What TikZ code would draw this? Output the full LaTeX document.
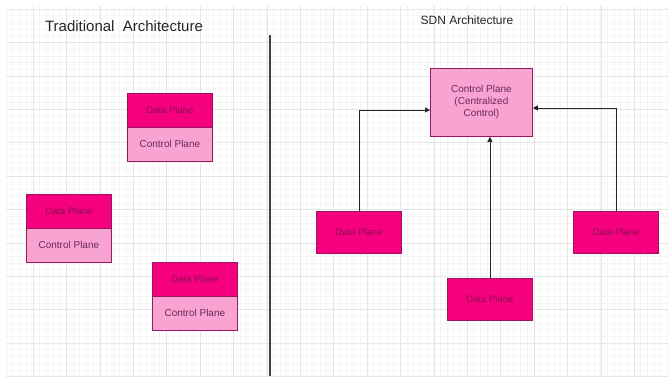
\documentclass[tikz,border=0pt]{standalone}
\usepackage{fontspec}
\setmainfont{Liberation Sans}
\usetikzlibrary{arrows.meta}
\definecolor{dpfill}{HTML}{F5007F}
\definecolor{dpdraw}{HTML}{9C1560}
\definecolor{dptext}{HTML}{8A1050}
\definecolor{cpfill}{HTML}{F9A3D2}
\definecolor{cptext}{HTML}{6A2A55}
\begin{document}
\begin{tikzpicture}[x=1pt,y=-1pt,
  dplane/.style={draw=dpdraw, line width=0.8pt, fill=dpfill, minimum width=85pt, minimum height=34pt, inner sep=0pt, font=\fontsize{9.5}{11}\selectfont, text=dptext, anchor=north west},
  cplane/.style={draw=dpdraw, line width=0.8pt, fill=cpfill, minimum width=85pt, minimum height=34pt, inner sep=0pt, font=\fontsize{10}{11}\selectfont, text=cptext, anchor=north west},
  sdndata/.style={dplane, minimum height=42pt},
  central/.style={cplane, minimum width=102pt, minimum height=68pt, align=center, font=\fontsize{10}{12}\selectfont},
  conn/.style={draw=black!85, line width=0.7pt, -{Triangle[length=5pt,width=5pt]}},
  title/.style={text=black!85}
]
\useasboundingbox (0,0) rectangle (668,376);
\fill[white] (0,0) rectangle (668,376);
% grid
\foreach \i in {0,...,100} {
  \draw[black!4, line width=0.4pt] (6+\i*6.68,6) -- (6+\i*6.68,376);
}
\foreach \j in {0,...,55} {
  \draw[black!4, line width=0.4pt] (6,9+\j*6.68) -- (668,9+\j*6.68);
}
\foreach \i in {0,...,19} {
  \draw[black!10, line width=0.6pt] (33+\i*33.4-33.4,6) -- (33+\i*33.4-33.4,376);
}
\foreach \j in {0,...,11} {
  \draw[black!10, line width=0.6pt] (6,9+\j*33.4) -- (668,9+\j*33.4);
}
% titles
\node[title, font=\fontsize{15}{17}\selectfont] (t1) at (124,26) {Traditional\ \ Architecture};
\node[title, font=\fontsize{12}{14}\selectfont] (t2) at (467,20) {SDN Architecture};
% divider
\coordinate (d1) at (270,35);
\coordinate (d2) at (270,376);
\draw[black!75, line width=1.2pt] (d1) -- (d2);
% traditional boxes
\node[dplane] (a1) at (127,93) {Data Plane};
\node[cplane] (a2) at (127,127) {Control Plane};
\node[dplane] (b1) at (26,194) {Data Plane};
\node[cplane] (b2) at (26,228) {Control Plane};
\node[dplane] (c1) at (152,262) {Data Plane};
\node[cplane] (c2) at (152,296) {Control Plane};
% SDN
\node[central] (cp) at (430,68) {Control Plane\\(Centralized\\Control)};
\node[sdndata] (s1) at (316,211) {Data Plane};
\node[sdndata] (s2) at (447,278) {Data Plane};
\node[sdndata] (s3) at (573,211) {Data Plane};
\draw[conn] (s1.north) |- ([yshift=-42pt]cp.north west);
\draw[conn] (s2.north) -- (s2.north |- cp.south);
\draw[conn] (s3.north) |- ([yshift=-40pt]cp.north east);
\end{tikzpicture}
\end{document}
